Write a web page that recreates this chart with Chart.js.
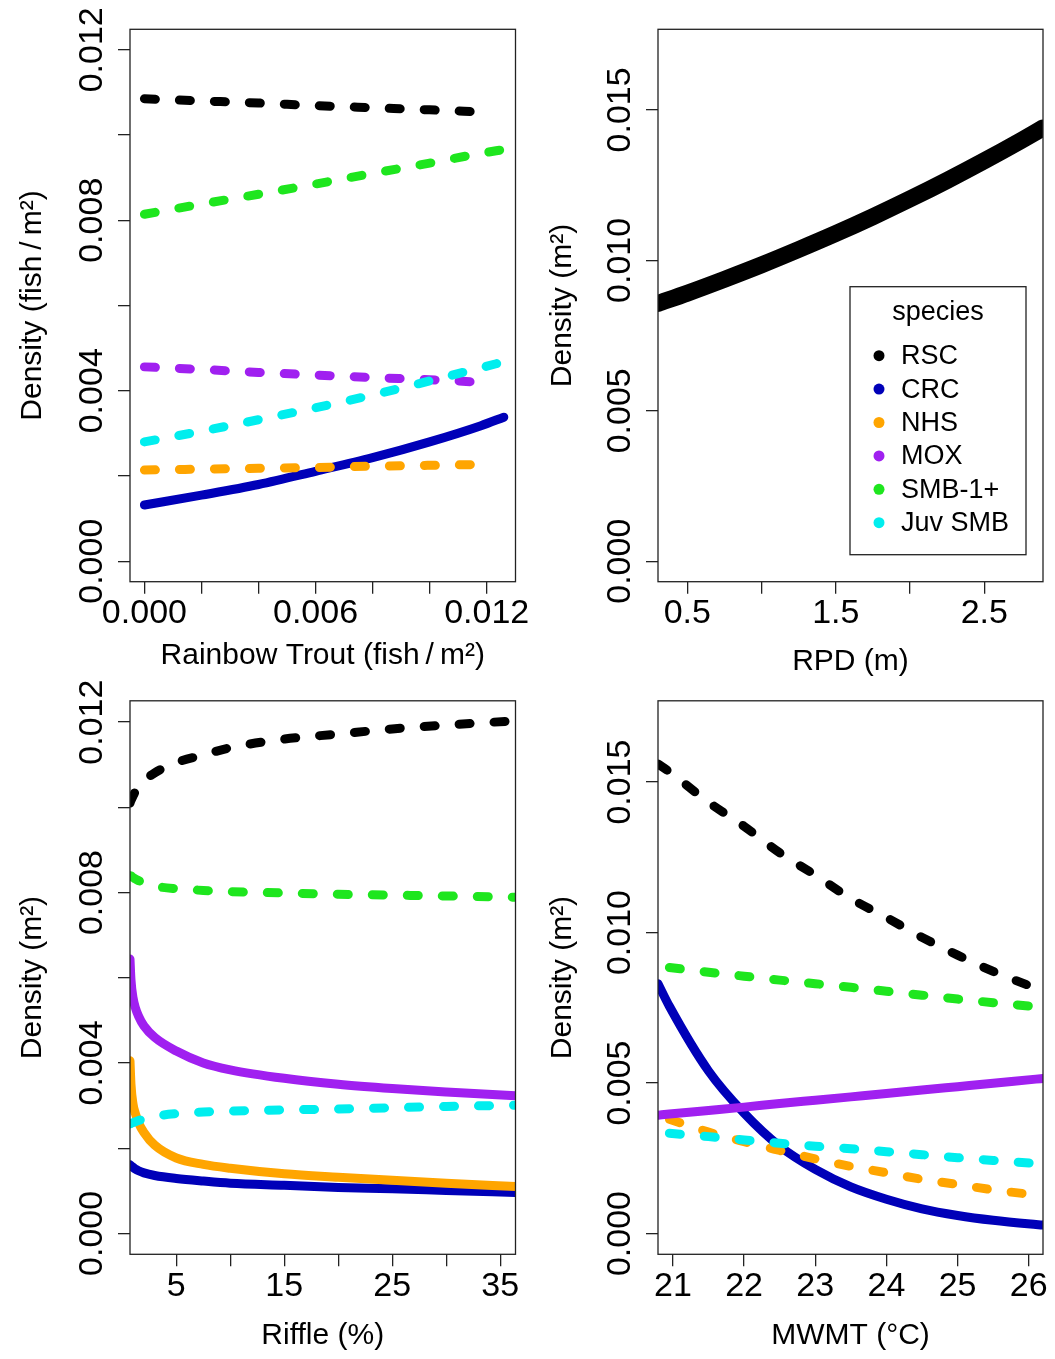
<!DOCTYPE html>
<html lang="en">
<head>
<meta charset="UTF-8">
<title>Species density vs habitat covariates</title>
<script src="https://cdn.jsdelivr.net/npm/chart.js"></script>
<style>
    body { margin: 0; background: #fff; }
    #page { position: relative; width: 1055px; height: 1359px; background: #fff; overflow: hidden; }
    canvas { position: absolute; }
</style>
</head>
<body>
<div id="page">
    <canvas id="c1" width="540" height="680" style="left:0;top:0"></canvas>
    <canvas id="c2" width="528" height="680" style="left:527px;top:0"></canvas>
    <canvas id="c3" width="540" height="679" style="left:0;top:680px"></canvas>
    <canvas id="c4" width="528" height="679" style="left:527px;top:680px"></canvas>
</div>
<script>
const FONT = '"Liberation Sans", Arial, sans-serif';

const species = ['RSC', 'CRC', 'NHS', 'MOX', 'SMB-1+', 'Juv SMB'];
const colors = ['#000000', '#0000b8', '#ffa500', '#a020f0', '#1ee61e', '#00eeee'];

// top left: rainbow trout density
const troutX = [0, 0.002, 0.004, 0.006, 0.008, 0.010, 0.0118, 0.0126];
const troutRSC = [0.01085, 0.0108, 0.01075, 0.01069, 0.01064, 0.01059, 0.01054, null];
const troutCRC = [0.00132, 0.00155, 0.0018, 0.00211, 0.00243, 0.0028, 0.00318, 0.00338];
const troutNHS = [0.00214, 0.00216, 0.00218, 0.0022, 0.00223, 0.00225, 0.00227, null];
const troutMOX = [0.00456, 0.0045, 0.00443, 0.00437, 0.00431, 0.00426, 0.0042, null];
const troutSMB = [0.00814, 0.00838, 0.00861, 0.00885, 0.0091, 0.00934, 0.00957, 0.00966];
const troutJuv = [0.0028, 0.00305, 0.00332, 0.0036, 0.0039, 0.00423, 0.00454, 0.00468];

// top right: residual pool depth
const rpdX = [0.303, 0.5, 0.75, 1.0, 1.25, 1.5, 1.75, 2.0, 2.25, 2.5, 2.75, 2.895];
const rpdRSC = [0.00857, 0.00891, 0.00937, 0.00985, 0.01036, 0.01089, 0.01145, 0.01204, 0.01266, 0.01331, 0.01399, 0.0144];

// bottom left: riffle %
const riffleX = [0.71, 0.8, 1, 1.2, 1.5, 2, 3, 5, 7.5, 10, 15, 20, 25, 30, 36.42];
const riffleRSC = [0.0101, 0.01016, 0.01027, 0.01037, 0.01048, 0.01062, 0.01081, 0.01105, 0.01123, 0.0114, 0.0116, 0.01172, 0.01184, 0.01193, 0.01203];
const riffleCRC = [0.00161, 0.00159, 0.00155, 0.00151, 0.00147, 0.00142, 0.00136, 0.00129, 0.00123, 0.00118, 0.00113, 0.00108, 0.00105, 0.00101, 0.00096];
const riffleNHS = [0.00405, 0.0035, 0.00302, 0.00282, 0.0026, 0.00237, 0.00207, 0.00177, 0.00162, 0.00153, 0.0014, 0.00132, 0.00125, 0.00118, 0.0011];
const riffleMOX = [0.00644, 0.00595, 0.00552, 0.0053, 0.0051, 0.00487, 0.0046, 0.00428, 0.004, 0.00384, 0.00364, 0.0035, 0.0034, 0.00332, 0.00323];
const riffleSMB = [0.0084, 0.00839, 0.00835, 0.00832, 0.00828, 0.00822, 0.00815, 0.00809, 0.00805, 0.00802, 0.00799, 0.00796, 0.00794, 0.00792, 0.00789];
const riffleJuv = [0.00257, 0.00258, 0.0026, 0.00262, 0.00265, 0.00269, 0.00275, 0.00281, 0.00285, 0.00287, 0.0029, 0.00292, 0.00295, 0.00298, 0.00301];

// bottom right: max weekly mean temperature
const mwmtX = [20.79, 20.95, 21.5, 22, 22.5, 23, 23.5, 24, 24.5, 25, 25.5, 26.1, 26.2];
const mwmtRSC = [0.0156, 0.01534, 0.01433, 0.01353, 0.01265, 0.01191, 0.01113, 0.0105, 0.00984, 0.00925, 0.00871, 0.00815, 0.00806];
const mwmtCRC = [0.0083, 0.00755, 0.0054, 0.004, 0.0029, 0.00213, 0.00155, 0.00114, 0.00082, 0.0006, 0.00044, 0.0003, 0.00028];
const mwmtNHS = [null, 0.0038, 0.00337, 0.00305, 0.00276, 0.00248, 0.00223, 0.00202, 0.0018, 0.00163, 0.00145, 0.00128, null];
const mwmtMOX = [0.00393, 0.00397, 0.00409, 0.0042, 0.00432, 0.00443, 0.00454, 0.00465, 0.00477, 0.00488, 0.00499, 0.00513, 0.00515];
const mwmtSMB = [null, 0.00884, 0.00868, 0.00855, 0.00842, 0.0083, 0.00818, 0.00805, 0.00792, 0.00779, 0.00767, 0.00754, 0.00752];
const mwmtJuv = [null, 0.00333, 0.00322, 0.00311, 0.003, 0.0029, 0.00282, 0.00272, 0.00262, 0.00252, 0.00243, 0.00233, 0.00232];

// ticks (blank label = tick mark only, like R drops overlapping labels)
const troutTicks = [0, 0.002, 0.004, 0.006, 0.008, 0.010, 0.012];
const troutTickLabels = ['0.000', '', '', '0.006', '', '', '0.012'];
const rpdTicks = [0.5, 1.0, 1.5, 2.0, 2.5];
const rpdTickLabels = ['0.5', '', '1.5', '', '2.5'];
const riffleTicks = [5, 10, 15, 20, 25, 30, 35];
const riffleTickLabels = ['5', '', '15', '', '25', '', '35'];
const mwmtTicks = [21, 22, 23, 24, 25, 26];
const mwmtTickLabels = ['21', '22', '23', '24', '25', '26'];
const dens12Ticks = [0, 0.002, 0.004, 0.006, 0.008, 0.010, 0.012];
const dens12Labels = ['0.000', '', '0.004', '', '0.008', '', '0.012'];
const dens17Ticks = [0, 0.005, 0.010, 0.015];
const dens17Labels = ['0.000', '0.005', '0.010', '0.015'];

function buildDatasets(xs, series, solid, width) {
    return species.map(function (name, i) {
        const ys = series[i];
        if (!ys) return null;
        const isSolid = solid.indexOf(name) >= 0;
        return {
            label: name,
            data: xs.map((x, k) => ({ x: x, y: ys[k] })),
            borderColor: colors[i],
            borderWidth: width,
            borderDash: isSolid ? [] : [11, 24],
            borderCapStyle: 'round',
            borderJoinStyle: 'round',
            pointRadius: 0,
            cubicInterpolationMode: 'monotone',
            spanGaps: false,
            order: species.length - i
        };
    }).filter(Boolean);
}

// rotated y tick labels (R style, las = 0)
const yLabelPlugin = {
    id: 'yLabels',
    afterDraw(chart, args, opts) {
        const { ctx, chartArea, scales } = chart;
        ctx.save();
        ctx.font = '34px ' + FONT;
        ctx.fillStyle = '#000';
        ctx.textAlign = 'center';
        ctx.textBaseline = 'alphabetic';
        opts.ticks.forEach(function (v, i) {
            if (!opts.labels[i]) return;
            ctx.save();
            ctx.translate(chartArea.left - 28, scales.y.getPixelForValue(v));
            ctx.rotate(-Math.PI / 2);
            ctx.fillText(opts.labels[i], 0, 0);
            ctx.restore();
        });
        ctx.restore();
    }
};

const boxPlugin = {
    id: 'box',
    afterDatasetsDraw(chart) {
        const { ctx, chartArea: a } = chart;
        ctx.save();
        ctx.strokeStyle = '#222';
        ctx.lineWidth = 1.3;
        ctx.strokeRect(a.left, a.top, a.right - a.left, a.bottom - a.top);
        ctx.restore();
    }
};

const legendPlugin = {
    id: 'speciesLegend',
    afterDraw(chart) {
        const { ctx, chartArea: a } = chart;
        const w = 176, h = 268;
        const left = a.right - 17 - w, top = a.bottom - 27 - h;
        ctx.save();
        ctx.fillStyle = '#fff';
        ctx.fillRect(left, top, w, h);
        ctx.strokeStyle = '#222';
        ctx.lineWidth = 1.3;
        ctx.strokeRect(left, top, w, h);
        ctx.font = '27px ' + FONT;
        ctx.fillStyle = '#000';
        ctx.textAlign = 'center';
        ctx.textBaseline = 'alphabetic';
        ctx.fillText('species', left + w / 2, top + 33);
        ctx.textAlign = 'left';
        ctx.textBaseline = 'middle';
        species.forEach(function (name, i) {
            const cy = top + 69 + i * 33.4;
            ctx.fillStyle = colors[i];
            ctx.beginPath();
            ctx.arc(left + 29, cy, 5.5, 0, 2 * Math.PI);
            ctx.fill();
            ctx.fillStyle = '#000';
            ctx.fillText(name, left + 51, cy + 1);
        });
        ctx.restore();
    }
};

function makePanel(id, p) {
    const canvas = document.getElementById(id);
    const W = canvas.width, H = canvas.height;
    const plugins = [yLabelPlugin, boxPlugin];
    if (p.legend) plugins.push(legendPlugin);
    return new Chart(canvas, {
        type: 'line',
        data: { datasets: p.datasets },
        plugins: plugins,
        options: {
            responsive: false,
            animation: false,
            events: [],
            layout: { padding: { left: 0, top: p.top, right: W - p.right, bottom: 0 } },
            plugins: {
                legend: { display: false },
                tooltip: { enabled: false },
                yLabels: { ticks: p.yTicks, labels: p.yLabels }
            },
            scales: {
                x: {
                    type: 'linear',
                    min: p.xMin,
                    max: p.xMax,
                    afterBuildTicks: s => { s.ticks = p.xTicks.map(v => ({ value: v })); },
                    afterFit: s => { s.height = H - p.bottom; s.paddingLeft = 0; s.paddingRight = 0; },
                    border: { display: false },
                    grid: { drawOnChartArea: false, drawTicks: true, tickLength: 12, color: '#222', lineWidth: 1.3 },
                    ticks: {
                        autoSkip: false, maxRotation: 0, minRotation: 0, padding: 0, color: '#000',
                        font: { family: FONT, size: 34 },
                        callback: (v, i) => p.xLabels[i]
                    },
                    title: {
                        display: true, text: p.xTitle, color: '#000',
                        font: { family: FONT, size: 30 },
                        padding: { top: 0, bottom: p.xTitlePad }
                    }
                },
                y: {
                    type: 'linear',
                    min: p.yMin,
                    max: p.yMax,
                    afterBuildTicks: s => { s.ticks = p.yTicks.map(v => ({ value: v })); },
                    afterFit: s => { s.width = p.left; s.paddingTop = 0; s.paddingBottom = 0; },
                    border: { display: false },
                    grid: { drawOnChartArea: false, drawTicks: true, tickLength: 12, color: '#222', lineWidth: 1.3 },
                    ticks: { display: false },
                    title: {
                        display: true, text: p.yTitle, color: '#000',
                        font: { family: FONT, size: 30 },
                        padding: { top: p.yTitlePad, bottom: 0 }
                    }
                }
            }
        }
    });
}

makePanel('c1', {
    datasets: buildDatasets(troutX, [troutRSC, troutCRC, troutNHS, troutMOX, troutSMB, troutJuv], ['CRC'], 9),
    left: 130, right: 515.5, top: 29.3, bottom: 581.7,
    xMin: -0.000505, xMax: 0.01301, yMin: -0.00048, yMax: 0.01248,
    xTicks: troutTicks, xLabels: troutTickLabels,
    yTicks: dens12Ticks, yLabels: dens12Labels,
    xTitle: 'Rainbow Trout (fish\u2009/\u2009m²)', yTitle: 'Density (fish\u2009/\u2009m²)',
    xTitlePad: 6, yTitlePad: 15
});

makePanel('c2', {
    datasets: buildDatasets(rpdX, [rpdRSC], ['RSC'], 17),
    left: 131, right: 516, top: 29.3, bottom: 581.7,
    xMin: 0.303, xMax: 2.895, yMin: -0.00068, yMax: 0.01768,
    xTicks: rpdTicks, xLabels: rpdTickLabels,
    yTicks: dens17Ticks, yLabels: dens17Labels,
    xTitle: 'RPD (m)', yTitle: 'Density (m²)',
    xTitlePad: 0, yTitlePad: 17.5,
    legend: true
});

makePanel('c3', {
    datasets: buildDatasets(riffleX, [riffleRSC, riffleCRC, riffleNHS, riffleMOX, riffleSMB, riffleJuv], ['CRC', 'NHS', 'MOX'], 9),
    left: 130, right: 515.5, top: 20.8, bottom: 574.3,
    xMin: 0.71, xMax: 36.42, yMin: -0.00049, yMax: 0.0125,
    xTicks: riffleTicks, xLabels: riffleTickLabels,
    yTicks: dens12Ticks, yLabels: dens12Labels,
    xTitle: 'Riffle (%)', yTitle: 'Density (m²)',
    xTitlePad: 5, yTitlePad: 15
});

makePanel('c4', {
    datasets: buildDatasets(mwmtX, [mwmtRSC, mwmtCRC, mwmtNHS, mwmtMOX, mwmtSMB, mwmtJuv], ['CRC', 'MOX'], 9),
    left: 131, right: 516, top: 20.8, bottom: 574.3,
    xMin: 20.79, xMax: 26.2, yMin: -0.00069, yMax: 0.0177,
    xTicks: mwmtTicks, xLabels: mwmtTickLabels,
    yTicks: dens17Ticks, yLabels: dens17Labels,
    xTitle: 'MWMT (°C)', yTitle: 'Density (m²)',
    xTitlePad: 5, yTitlePad: 17.5
});
</script>
</body>
</html>
